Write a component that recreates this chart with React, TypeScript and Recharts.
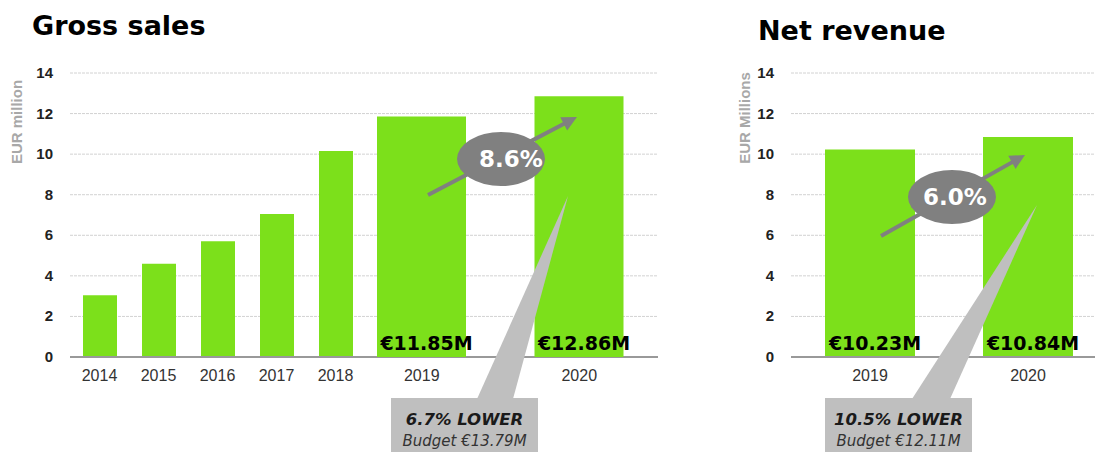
import React from "react";
import { BarChart, Bar, XAxis, YAxis, CartesianGrid, LabelList } from "recharts";

// gross sales, EUR million
const earlyYears = ["2014", "2015", "2016", "2017", "2018"];
const earlyGross = [3.05, 4.6, 5.7, 7.05, 10.15];
const recentYears = ["2019", "2020"];
const recentGross = [11.85, 12.86];
// net revenue, EUR millions
const recentNet = [10.23, 10.84];
const yTicks = [0, 2, 4, 6, 8, 10, 12, 14];

const growth = ["8.6%", "6.0%"];
const budgetGap = ["6.7% LOWER", "10.5% LOWER"];
const budgetNote = ["Budget €13.79M", "Budget €12.11M"];

const GREEN = "#7ce01b";
const GRID = "#d2d2d2";
const SANS = "'Liberation Sans', Arial, sans-serif";
const WIDE = "'DejaVu Sans', Verdana, sans-serif";

const earlyData = earlyYears.map((year, i) => ({ year, value: earlyGross[i] }));
const grossData = recentYears.map((year, i) => ({ year, value: recentGross[i] }));
const netData = recentYears.map((year, i) => ({ year, value: recentNet[i] }));

const fmt = (v: number) => `€${v.toFixed(2)}M`;

const xTick = { fontSize: 16, fill: "#333", fontFamily: SANS };

function YTick({ x, y, payload }: any) {
  return (
    <text x={x} y={y} dy={5} textAnchor="end" fontFamily={SANS} fontSize={15} fontWeight="bold" fill="#222">
      {payload.value}
    </text>
  );
}

function BigBars({ barSize }: { barSize: number }) {
  return (
    <Bar dataKey="value" fill={GREEN} barSize={barSize} isAnimationActive={false}>
      <LabelList
        dataKey="value"
        position="insideBottom"
        offset={7}
        dx={5}
        formatter={(v: any) => fmt(Number(v))}
        style={{ fontSize: 19, fontWeight: "bold", fill: "#000", fontFamily: WIDE }}
      />
    </Bar>
  );
}

function Arrow({ x1, y1, x2, y2 }: { x1: number; y1: number; x2: number; y2: number }) {
  const dx = x2 - x1, dy = y2 - y1;
  const len = Math.hypot(dx, dy);
  const ux = dx / len, uy = dy / len;
  const hl = 15, hw = 7.5;
  const bx = x2 - ux * hl, by = y2 - uy * hl;
  const pts = `${x2},${y2} ${bx - uy * hw},${by + ux * hw} ${bx + uy * hw},${by - ux * hw}`;
  return (
    <g>
      <line x1={x1} y1={y1} x2={bx + ux * 2} y2={by + uy * 2} stroke="#808080" strokeWidth={4} />
      <polygon points={pts} fill="#808080" />
    </g>
  );
}

function Callout({ left, right, top, tip, base, title, note }: any) {
  const cx = (left + right) / 2;
  return (
    <g>
      <rect x={left} y={top} width={right - left} height={60} fill="#bfbfbf" />
      <polygon points={`${base[0]},${top + 1} ${tip[0]},${tip[1]} ${base[1]},${top + 1}`} fill="#bfbfbf" />
      <text x={cx} y={top + 27} textAnchor="middle" fontFamily={WIDE} fontSize={16.5} fontWeight="bold" fontStyle="italic" fill="#1a1a1a">
        {title}
      </text>
      <text x={cx} y={top + 48} textAnchor="middle" fontFamily={WIDE} fontSize={15} fontStyle="italic" fill="#333">
        {note}
      </text>
    </g>
  );
}

export default function App() {
  const layer: React.CSSProperties = { position: "absolute", top: 0 };
  return (
    <div style={{ position: "absolute", left: 0, top: 0, width: 1095, height: 452, overflow: "hidden", background: "#fff" }}>
      {/* Gross sales: 2014-2018 with axes and grid */}
      <div style={{ ...layer, left: 0 }}>
        <BarChart width={670} height={452} data={earlyData} margin={{ top: 73, right: 12, bottom: 65, left: 0 }}>
          <CartesianGrid vertical={false} stroke={GRID} strokeDasharray="3 1" />
          <XAxis dataKey="year" height={30} padding={{ left: 0, right: 293 }} interval={0}
            axisLine={{ stroke: "#999", strokeWidth: 2 }} tickLine={false} tickSize={0} tickMargin={13} tick={xTick} />
          <YAxis domain={[0, 14]} ticks={yTicks} width={70} axisLine={false} tickLine={false}
            tickSize={0} tickMargin={17} tick={<YTick />} />
          <Bar dataKey="value" fill={GREEN} barSize={34} isAnimationActive={false} />
        </BarChart>
      </div>
      {/* Gross sales: 2019-2020 wide bars */}
      <div style={{ ...layer, left: 0 }}>
        <BarChart width={670} height={452} data={grossData} margin={{ top: 73, right: 12, bottom: 65, left: 0 }}>
          <XAxis dataKey="year" height={30} padding={{ left: 273, right: 0 }} interval={0}
            axisLine={false} tickLine={false} tickSize={0} tickMargin={13} tick={xTick} />
          <YAxis domain={[0, 14]} ticks={yTicks} width={70} axisLine={false} tickLine={false} tick={false} />
          {BigBars({ barSize: 89 })}
        </BarChart>
      </div>
      {/* Net revenue */}
      <div style={{ ...layer, left: 700 }}>
        <BarChart width={420} height={452} data={netData} margin={{ top: 73, right: 13, bottom: 65, left: 0 }}>
          <CartesianGrid vertical={false} stroke={GRID} strokeDasharray="3 1" />
          <XAxis dataKey="year" height={30} interval={0}
            axisLine={{ stroke: "#999", strokeWidth: 2 }} tickLine={false} tickSize={0} tickMargin={13} tick={xTick} />
          <YAxis domain={[0, 14]} ticks={yTicks} width={91} axisLine={false} tickLine={false}
            tickSize={0} tickMargin={17} tick={<YTick />} />
          {BigBars({ barSize: 90 })}
        </BarChart>
      </div>
      {/* titles and annotations */}
      <svg width={1095} height={452} style={{ ...layer, left: 0, pointerEvents: "none" }}>
        <text x={32} y={35} fontFamily={WIDE} fontSize={27} fontWeight="bold" fill="#000">Gross sales</text>
        <text x={758} y={40} fontFamily={WIDE} fontSize={27} fontWeight="bold" fill="#000">Net revenue</text>
        <text transform="translate(22,122) rotate(-90)" textAnchor="middle" fontFamily={SANS} fontSize={15} fontWeight="bold" fill="#a8a8a8">EUR million</text>
        <text transform="translate(750,118) rotate(-90)" textAnchor="middle" fontFamily={SANS} fontSize={15} fontWeight="bold" fill="#a8a8a8">EUR Millions</text>

        <Arrow x1={428} y1={195} x2={577} y2={117} />
        <ellipse cx={501} cy={159} rx={44} ry={27} fill="#808080" />
        <text x={511} y={167} textAnchor="middle" fontFamily={WIDE} fontSize={23} fontWeight="bold" fill="#fff">{growth[0]}</text>

        <Arrow x1={881} y1={236} x2={1025} y2={155} />
        <ellipse cx={952} cy={197} rx={44} ry={27} fill="#808080" />
        <text x={955} y={205} textAnchor="middle" fontFamily={WIDE} fontSize={23} fontWeight="bold" fill="#fff">{growth[1]}</text>

        <Callout left={391} right={538} top={398} tip={[568, 196]} base={[477, 513]} title={budgetGap[0]} note={budgetNote[0]} />
        <Callout left={825} right={972} top={398} tip={[1037, 205]} base={[912, 950]} title={budgetGap[1]} note={budgetNote[1]} />
      </svg>
    </div>
  );
}
